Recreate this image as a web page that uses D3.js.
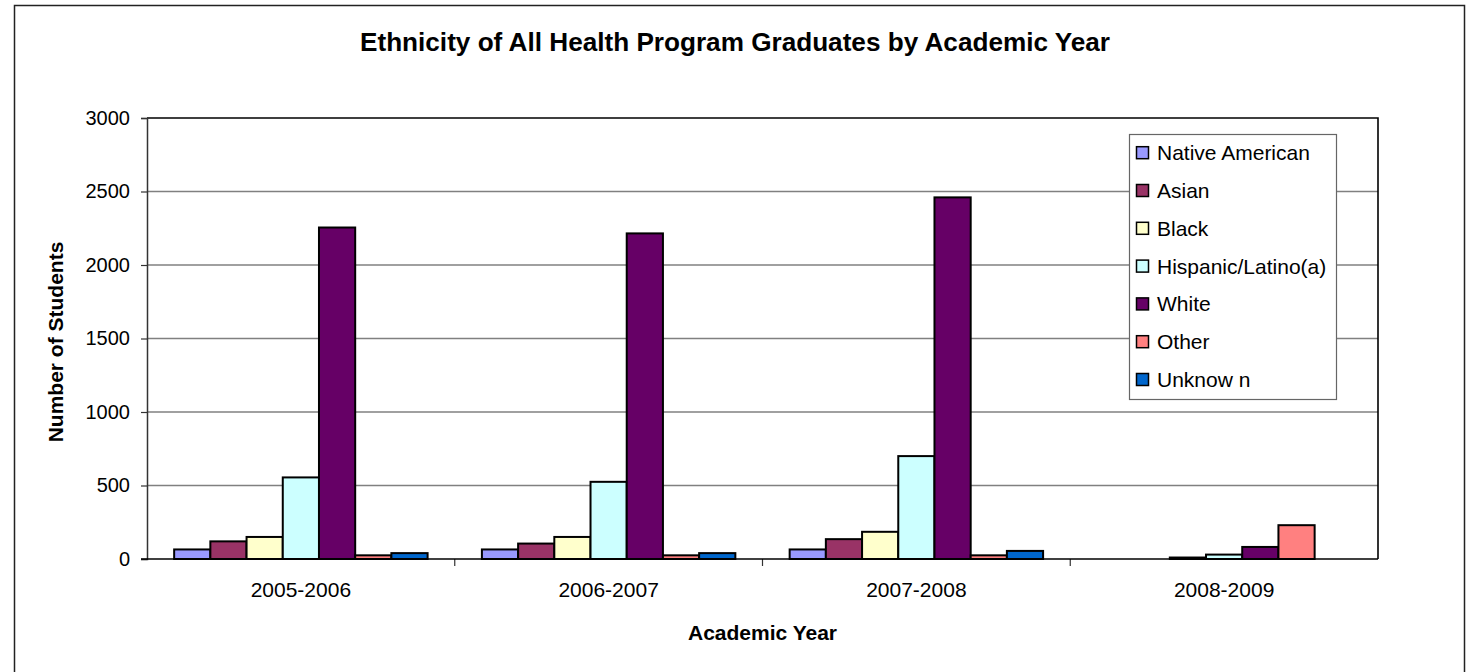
<!DOCTYPE html>
<html>
<head>
<meta charset="utf-8">
<script src="https://cdn.jsdelivr.net/npm/d3@7"></script>
<style>
  body { margin: 0; background: #fff; }
  svg text { font-family: Arial, "Liberation Sans", sans-serif; fill: #000; }
</style>
</head>
<body>
<div id="chart"></div>
<script>
// Data
const years = ["2005-2006", "2006-2007", "2007-2008", "2008-2009"];
const groups = ["Native American", "Asian", "Black", "Hispanic/Latino(a)", "White", "Other", "Unknown"];
const legendLabels = ["Native American", "Asian", "Black", "Hispanic/Latino(a)", "White", "Other", "Unknow n"];
const colors = ["#9999FF", "#993366", "#FFFFCC", "#CCFFFF", "#660066", "#FF8080", "#0066CC"];

const nativeAmerican = [65, 65, 65, 0];
const asian = [120, 105, 135, 0];
const black = [150, 150, 185, 10];
const hispanic = [555, 525, 700, 30];
const white = [2255, 2215, 2460, 82];
const other = [25, 25, 25, 230];
const unknown = [40, 40, 55, 0];

const yTicks = [0, 500, 1000, 1500, 2000, 2500, 3000];

const seriesValues = [nativeAmerican, asian, black, hispanic, white, other, unknown];

const size = { width: 1470, height: 672 };
const plot = { left: 147, right: 1378, top: 118, bottom: 559 };

const svg = d3.select("#chart")
  .append("svg")
  .attr("width", size.width)
  .attr("height", size.height);

// outer chart frame (bottom edge runs off the page)
svg.append("rect")
  .attr("x", 14.5).attr("y", 5.5)
  .attr("width", 1450).attr("height", 700)
  .attr("fill", "#fff")
  .attr("stroke", "#222")
  .attr("stroke-width", 1.5);

// Scales
const xScale = d3.scaleBand(years, [plot.left, plot.right]);
const xInner = d3.scaleBand(groups, [0, xScale.bandwidth()]).paddingOuter(0.75);
const yScale = d3.scaleLinear([0, 3000], [plot.bottom, plot.top]);

// Gridlines
svg.append("g")
  .selectAll("line")
  .data(yTicks.slice(1, -1))
  .join("line")
  .attr("x1", plot.left).attr("x2", plot.right)
  .attr("y1", (d) => yScale(d)).attr("y2", (d) => yScale(d))
  .attr("stroke", "#808080")
  .attr("stroke-width", 1.4);

// plot border top + right
svg.append("path")
  .attr("d", `M${plot.left},${plot.top}H${plot.right}V${plot.bottom}`)
  .attr("fill", "none")
  .attr("stroke", "#000")
  .attr("stroke-width", 1.6);

// Bars
const rows = [];
years.forEach((yr, i) => {
  groups.forEach((g, j) => {
    rows.push({ year: yr, group: g, value: seriesValues[j][i], color: colors[j] });
  });
});

svg.append("g")
  .selectAll("rect")
  .data(rows.filter((d) => d.value > 0))
  .join("rect")
  .attr("x", (d) => xScale(d.year) + xInner(d.group))
  .attr("y", (d) => yScale(d.value))
  .attr("width", xInner.bandwidth())
  .attr("height", (d) => yScale(0) - yScale(d.value))
  .attr("fill", (d) => d.color)
  .attr("stroke", "#000")
  .attr("stroke-width", 2);

// Axes
const yAxis = svg.append("g")
  .attr("transform", `translate(${plot.left},0)`)
  .call(d3.axisLeft(yScale).tickValues(yTicks).tickSize(6).tickPadding(11).tickFormat(d3.format("d")));
yAxis.select(".domain").attr("stroke", "#333").attr("stroke-width", 1.5);
yAxis.selectAll(".tick line").attr("stroke", "#333").attr("stroke-width", 1.2);
yAxis.selectAll("text").style("font-size", "20px");

const xAxis = svg.append("g")
  .attr("transform", `translate(0,${plot.bottom})`)
  .call(d3.axisBottom(xScale).tickSize(0).tickPadding(0));
xAxis.select(".domain").remove();
xAxis.selectAll("text")
  .attr("y", 38)
  .attr("dy", null)
  .style("font-size", "21px");

// category boundary ticks
svg.append("g")
  .selectAll("line")
  .data(years.slice(1))
  .join("line")
  .attr("x1", (d) => xScale(d)).attr("x2", (d) => xScale(d))
  .attr("y1", plot.bottom).attr("y2", plot.bottom + 7)
  .attr("stroke", "#333")
  .attr("stroke-width", 1.2);

svg.append("line")
  .attr("x1", plot.left - 6).attr("x2", plot.right)
  .attr("y1", plot.bottom).attr("y2", plot.bottom)
  .attr("stroke", "#000")
  .attr("stroke-width", 1.6);

// Titles
svg.append("text")
  .attr("x", 735).attr("y", 51)
  .attr("text-anchor", "middle")
  .style("font-size", "25px")
  .style("font-weight", "bold")
  .attr("textLength", 750)
  .attr("lengthAdjust", "spacingAndGlyphs")
  .text("Ethnicity of All Health Program Graduates by Academic Year");

svg.append("text")
  .attr("x", (plot.left + plot.right) / 2).attr("y", 640)
  .attr("text-anchor", "middle")
  .style("font-size", "21px")
  .style("font-weight", "bold")
  .text("Academic Year");

svg.append("text")
  .attr("transform", `translate(63,342) rotate(-90)`)
  .attr("text-anchor", "middle")
  .style("font-size", "21px")
  .style("font-weight", "bold")
  .text("Number of Students");

// Legend
const legend = svg.append("g").attr("transform", "translate(1129,134)");
legend.append("rect")
  .attr("x", 0.5).attr("y", 0.5)
  .attr("width", 207).attr("height", 265)
  .attr("fill", "#fff")
  .attr("stroke", "#666")
  .attr("stroke-width", 1.2);

const item = legend.selectAll("g.item")
  .data(legendLabels)
  .join("g")
  .attr("class", "item")
  .attr("transform", (d, i) => `translate(0,${18.7 + i * 37.8})`);

item.append("rect")
  .attr("x", 7.5).attr("y", -6)
  .attr("width", 12).attr("height", 12)
  .attr("fill", (d, i) => colors[i])
  .attr("stroke", "#000")
  .attr("stroke-width", 1.5);

item.append("text")
  .attr("x", 28).attr("y", 7.5)
  .style("font-size", "21px")
  .text((d) => d);
</script>
</body>
</html>
